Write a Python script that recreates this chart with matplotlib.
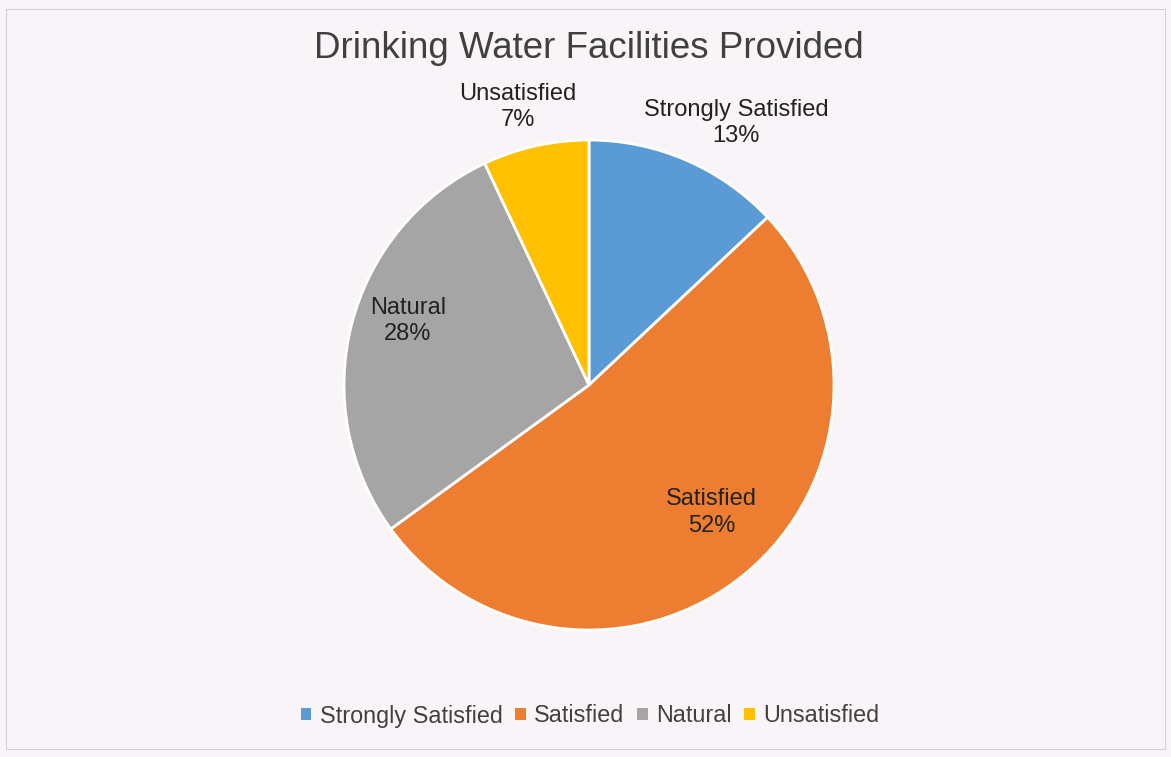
import matplotlib
matplotlib.use("Agg")
import matplotlib.pyplot as plt
from matplotlib.patches import Rectangle

plt.rcParams['font.family'] = ['Liberation Sans', 'DejaVu Sans']

categories = ["Strongly Satisfied", "Satisfied", "Natural", "Unsatisfied"]
shares = [13, 52, 28, 7]
colors = ["#5b9bd5", "#ed7d31", "#a5a5a5", "#ffc000"]
# where each data label sits, in pie units (radius = 1)
label_pos = [(0.60, 1.07), (0.50, -0.52), (-0.74, 0.26), (-0.29, 1.135)]

bg = "#f8f4f8"
fig = plt.figure(figsize=(11.71, 7.57), dpi=100, facecolor=bg)

# faint frame round the chart area
fig.patches.append(Rectangle((0.005, 0.01), 0.99, 0.978, transform=fig.transFigure,
                             fill=False, ec="#d4d0d4", lw=0.8))

ax = fig.add_axes([0, 0, 1, 1])
ax.set_facecolor(bg)

wedges, _ = ax.pie(shares, colors=colors, startangle=90, counterclock=False,
                   radius=1.0, wedgeprops=dict(edgecolor="white", linewidth=2))

W, H = 1171, 757
r_px = 245
cx, cy = 589, H - 385
ax.set_xlim(-cx / r_px, (W - cx) / r_px)
ax.set_ylim(-cy / r_px, (H - cy) / r_px)
ax.set_aspect("equal")
ax.axis("off")

for name, val, (x, y) in zip(categories, shares, label_pos):
    ax.text(x, y, f"{name}\n{val}%", ha="center", va="center", fontsize=17,
            color="#222222", linespacing=1.25)

ax.text(0, (H - 49 - cy) / r_px, "Drinking Water Facilities Provided",
        ha="center", va="center", fontsize=26.5, color="#404040")

leg = ax.legend(wedges, categories, loc="center", bbox_to_anchor=(590 / W, 1 - 716 / H),
                bbox_transform=fig.transFigure, ncol=4, frameon=False, fontsize=16.8,
                handlelength=0.45, handleheight=0.45, handletextpad=0.35, columnspacing=0.55)
for t in leg.get_texts():
    t.set_color("#404040")
for h in leg.legend_handles:
    h.set_edgecolor("none")

fig.savefig("out.png", dpi=100, facecolor=bg)
